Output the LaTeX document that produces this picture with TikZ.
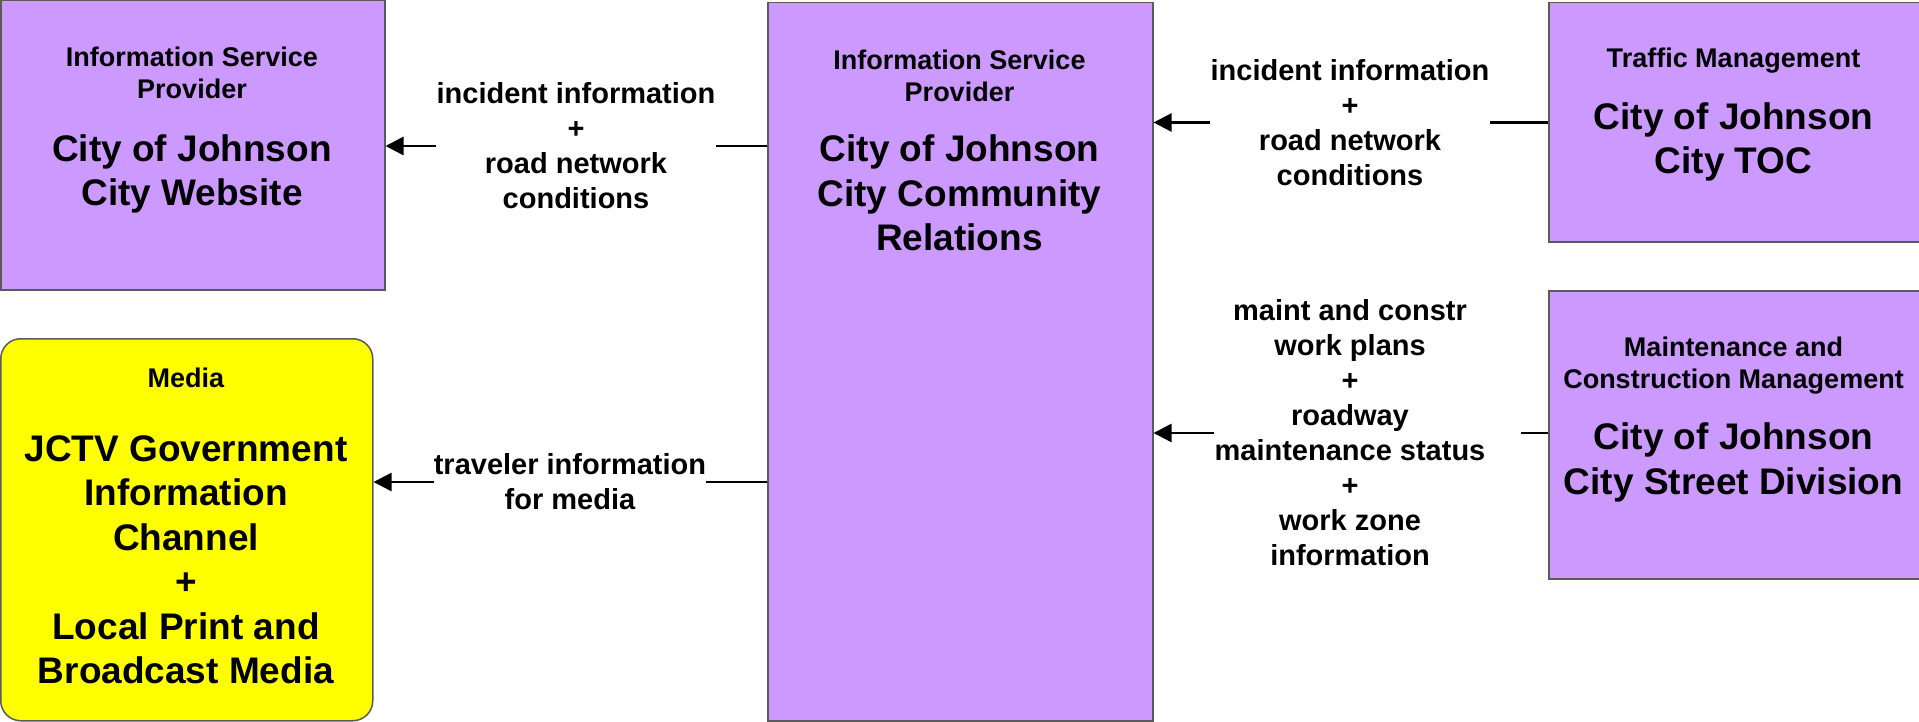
\documentclass[tikz,border=0pt]{standalone}
\usepackage{fontspec}
\setmainfont{Liberation Sans}
\usetikzlibrary{arrows.meta}
\definecolor{boxpurple}{RGB}{204,153,255}
\definecolor{boxyellow}{RGB}{255,255,0}
\definecolor{boxedge}{RGB}{90,90,90}
\newcommand\hdrf{\fontsize{27}{32}\selectfont\bfseries}
\newcommand\bigf{\fontsize{37}{44.5}\selectfont\bfseries}
\newcommand\lblf{\fontsize{29}{35}\selectfont\bfseries}
\begin{document}
\begin{tikzpicture}[x=1pt,y=-1pt,
  ent/.style={draw=boxedge,line width=1.5pt,fill=boxpurple,inner sep=0pt,anchor=north west},
  hdr/.style={font=\hdrf,align=center,inner sep=0pt},
  ttl/.style={font=\bigf,align=center,inner sep=0pt},
  lbl/.style={font=\lblf,align=center,inner sep=0pt},
  flow/.style={line width=2.5pt,draw=black},
  tip/.style={-{Triangle[length=18pt,width=18pt]}}]
\useasboundingbox (0,0) rectangle (1919,722);
% boxes
\node[ent,minimum width=384pt,minimum height=289pt] (web) at (0,0) {};
\node[ent,fill=boxyellow,rounded corners=20pt,minimum width=372pt,minimum height=382pt] (md) at (0,338) {};
\node[ent,minimum width=385pt,minimum height=718pt] (cr) at (767,2) {};
\node[ent,minimum width=373pt,minimum height=239pt] (toc) at (1548,2) {};
\node[ent,minimum width=373pt,minimum height=288pt] (st) at (1548,290) {};
% box texts
\node[hdr] (web-h) at (192,73) {Information Service\\Provider};
\node[ttl] (web-t) at (192,174) {City of Johnson\\City Website};
\node[hdr] (cr-h) at (959.5,76) {Information Service\\Provider};
\node[ttl] (cr-t) at (959.5,193) {City of Johnson\\City Community\\Relations};
\node[hdr] (toc-h) at (1733.5,61) {Traffic Management};
\node[ttl] (toc-t) at (1733.5,142) {City of Johnson\\City TOC};
\node[hdr] (st-h) at (1733.5,366) {Maintenance and\\Construction Management};
\node[ttl] (st-t) at (1733.5,462.5) {City of Johnson\\City Street Division};
\node[hdr] (md-h) at (186,378) {Media};
\node[ttl] (md-t) at (186,560) {JCTV Government\\Information\\Channel\\+\\Local Print and\\Broadcast Media};
% flows
\node[lbl] (l1) at (576,146) {incident information\\+\\road network\\conditions};
\draw[flow] (cr.west |- l1) -- (l1.east);
\draw[flow,tip] (l1.west) -- (web.east |- l1);
\node[lbl] (l2) at (570,482) {traveler information\\for media};
\draw[flow] (cr.west |- l2) -- (l2.east);
\draw[flow,tip] (l2.west) -- (md.east |- l2);
\node[lbl] (l3) at (1350,122.5) {incident information\\+\\road network\\conditions};
\draw[flow] (toc.west |- l3) -- (l3.east);
\draw[flow,tip] (l3.west) -- (cr.east |- l3);
\node[lbl] (l4) at (1350,433) {maint and constr\\work plans\\+\\roadway\\maintenance status\\+\\work zone\\information};
\coordinate (g4) at (1521,433);
\draw[flow] (st.west |- l4) -- (g4);
\draw[flow,tip] (l4.west) -- (cr.east |- l4);
\end{tikzpicture}
\end{document}
